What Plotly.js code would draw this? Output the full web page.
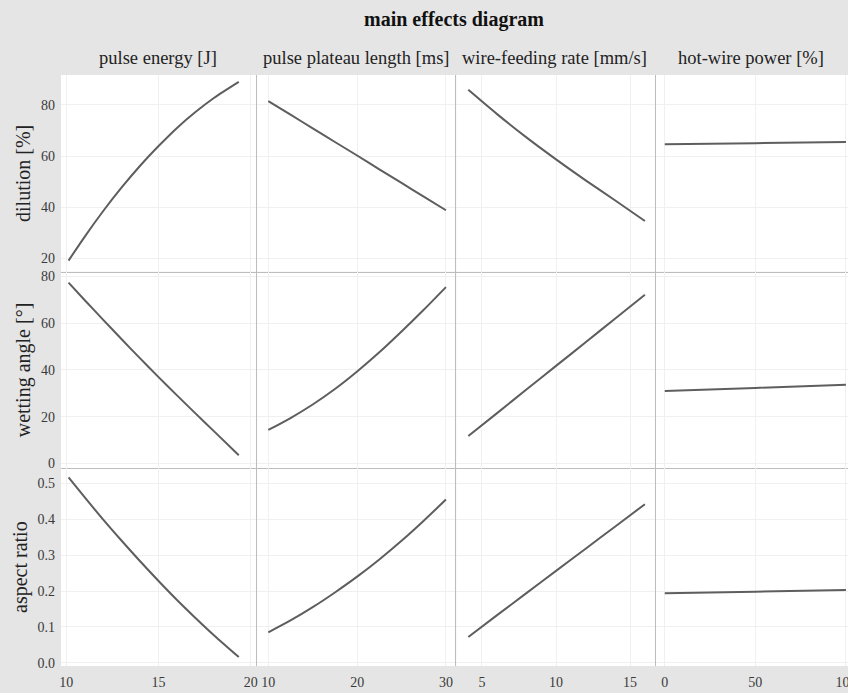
<!DOCTYPE html>
<html>
<head>
<meta charset="utf-8">
<script src="https://cdn.plot.ly/plotly-3.0.1.min.js"></script>
<style>
  html, body { margin: 0; padding: 0; overflow: hidden; background: #e5e5e5; }
  #chart { width: 860px; height: 693px; }
</style>
</head>
<body>
<div id="chart"></div>
<script>
// ---- categories / labels ----
const factors = ['pulse energy [J]', 'pulse plateau length [ms]', 'wire-feeding rate [mm/s]', 'hot-wire power [%]'];
const responses = ['dilution [%]', 'wetting angle [°]', 'aspect ratio'];

// ---- factor levels (x values) ----
const energyX   = [10.12, 11, 12, 13, 14, 15, 16, 17, 18, 19.35];
const plateauX  = [10, 12.5, 15, 17.5, 20, 22.5, 25, 27.5, 30];
const wireX     = [4.08, 6, 8, 10, 12, 14, 16];
const powerX    = [0, 50, 100];

// ---- dilution [%] ----
const dilutionEnergy  = [19.1, 28.5, 38.5, 47.7, 56.2, 63.9, 71.0, 77.2, 82.7, 89.0];
const dilutionPlateau = [81.5, 76.2, 70.8, 65.5, 60.2, 54.8, 49.5, 44.1, 38.8];
const dilutionWire    = [85.9, 76.5, 67.3, 58.7, 50.5, 42.6, 34.6];
const dilutionPower   = [64.6, 65.05, 65.5];

// ---- wetting angle [°] ----
const wettingEnergy  = [77.3, 69.8, 61.4, 53.1, 44.9, 36.9, 29.1, 21.4, 13.8, 3.5];
const wettingPlateau = [14.3, 19.4, 25.2, 31.8, 39.3, 47.5, 56.4, 65.7, 75.4];
const wettingWire    = [11.7, 21.4, 31.6, 41.7, 51.8, 62.0, 72.1];
const wettingPower   = [31.0, 32.3, 33.6];

// ---- aspect ratio ----
const aspectEnergy  = [0.517, 0.461, 0.399, 0.340, 0.283, 0.228, 0.175, 0.125, 0.077, 0.016];
const aspectPlateau = [0.085, 0.118, 0.155, 0.196, 0.240, 0.288, 0.340, 0.396, 0.455];
const aspectWire    = [0.072, 0.132, 0.194, 0.256, 0.318, 0.380, 0.442];
const aspectPower   = [0.194, 0.198, 0.2025];

// ---- tick settings ----
const xDticks = [5, 10, 5, 50];
const yDticks = [20, 20, 0.1];
const yFormats = ['', '', '.1f'];

// ---- build ----
const xs = [energyX, plateauX, wireX, powerX];
const ys = [
  [dilutionEnergy, dilutionPlateau, dilutionWire, dilutionPower],
  [wettingEnergy, wettingPlateau, wettingWire, wettingPower],
  [aspectEnergy, aspectPlateau, aspectWire, aspectPower]
];

// layout geometry (styling only)
const colDomains = [[0, 0.2469], [0.2469, 0.4979], [0.4979, 0.749], [0.749, 1]];
const rowDomains = [[0.6672, 1], [0.3345, 0.6672], [0, 0.3345]];
const xRanges = [[9.71, 20.34], [8.73, 31.17], [3.27, 16.73], [-5, 105]];
const yRanges = [[14.76, 91.7], [-2.1, 82], [-0.009, 0.542]];
const headerShift = [-1, 0, -2, -4];

const FONT = 'Liberation Serif, Times New Roman, serif';
const sepColor = '#bdbdbd';
const gridColor = '#f0f0f0';
const tickColor = '#3a3a3a';

const traces = [];
const layout = {
  width: 860, height: 693,
  paper_bgcolor: '#e5e5e5',
  plot_bgcolor: '#ffffff',
  margin: {l: 61, r: 5, t: 75, b: 27, pad: 0},
  showlegend: false,
  font: {family: FONT, size: 14, color: tickColor},
  title: {
    text: '<b>main effects diagram</b>',
    font: {family: FONT, size: 20, color: '#111111'},
    x: 0.5 - 4/794, xref: 'paper', xanchor: 'center',
    y: 1 - 19/693, yref: 'container', yanchor: 'middle'
  },
  annotations: [],
  hovermode: false
};

for (let r = 0; r < 3; r++) {
  for (let c = 0; c < 4; c++) {
    const i = r * 4 + c + 1;
    const sfx = i === 1 ? '' : String(i);
    traces.push({
      type: 'scatter', mode: 'lines',
      x: xs[c], y: ys[r][c],
      xaxis: 'x' + sfx, yaxis: 'y' + sfx,
      line: {color: '#5e5e5e', width: 2, shape: 'spline', smoothing: 0.8}
    });
    layout['xaxis' + sfx] = {
      domain: colDomains[c], anchor: 'y' + sfx,
      range: xRanges[c], dtick: xDticks[c], tick0: 0,
      showgrid: true, gridcolor: gridColor, gridwidth: 1,
      zeroline: false, ticks: '', ticklen: 0,
      showticklabels: r === 2,
      tickfont: {family: FONT, size: 14, color: tickColor},
      ticklabelstandoff: 6,
      showline: r < 2, linecolor: sepColor, linewidth: 1,
      fixedrange: true
    };
    const yax = {
      domain: rowDomains[r], anchor: 'x' + sfx,
      range: yRanges[r], dtick: yDticks[r], tick0: 0,
      tickformat: yFormats[r],
      showgrid: true, gridcolor: gridColor, gridwidth: 1,
      zeroline: false, ticks: '', ticklen: 0,
      showticklabels: c === 0,
      tickfont: {family: FONT, size: 14, color: tickColor},
      ticklabelstandoff: 5,
      showline: c > 0, linecolor: sepColor, linewidth: 1,
      fixedrange: true
    };
    if (c === 0) {
      yax.title = {text: responses[r], font: {family: FONT, size: 20, color: '#222222'}, standoff: 4};
    }
    layout['yaxis' + sfx] = yax;
  }
}

for (let c = 0; c < 4; c++) {
  layout.annotations.push({
    text: factors[c], showarrow: false,
    xref: 'paper', yref: 'paper',
    x: (colDomains[c][0] + colDomains[c][1]) / 2, y: 1,
    xanchor: 'center', yanchor: 'middle', yshift: 17, xshift: headerShift[c],
    font: {family: FONT, size: 18.5, color: '#222222'}
  });
}

Plotly.newPlot('chart', traces, layout, {displayModeBar: false, responsive: false});
</script>
</body>
</html>
